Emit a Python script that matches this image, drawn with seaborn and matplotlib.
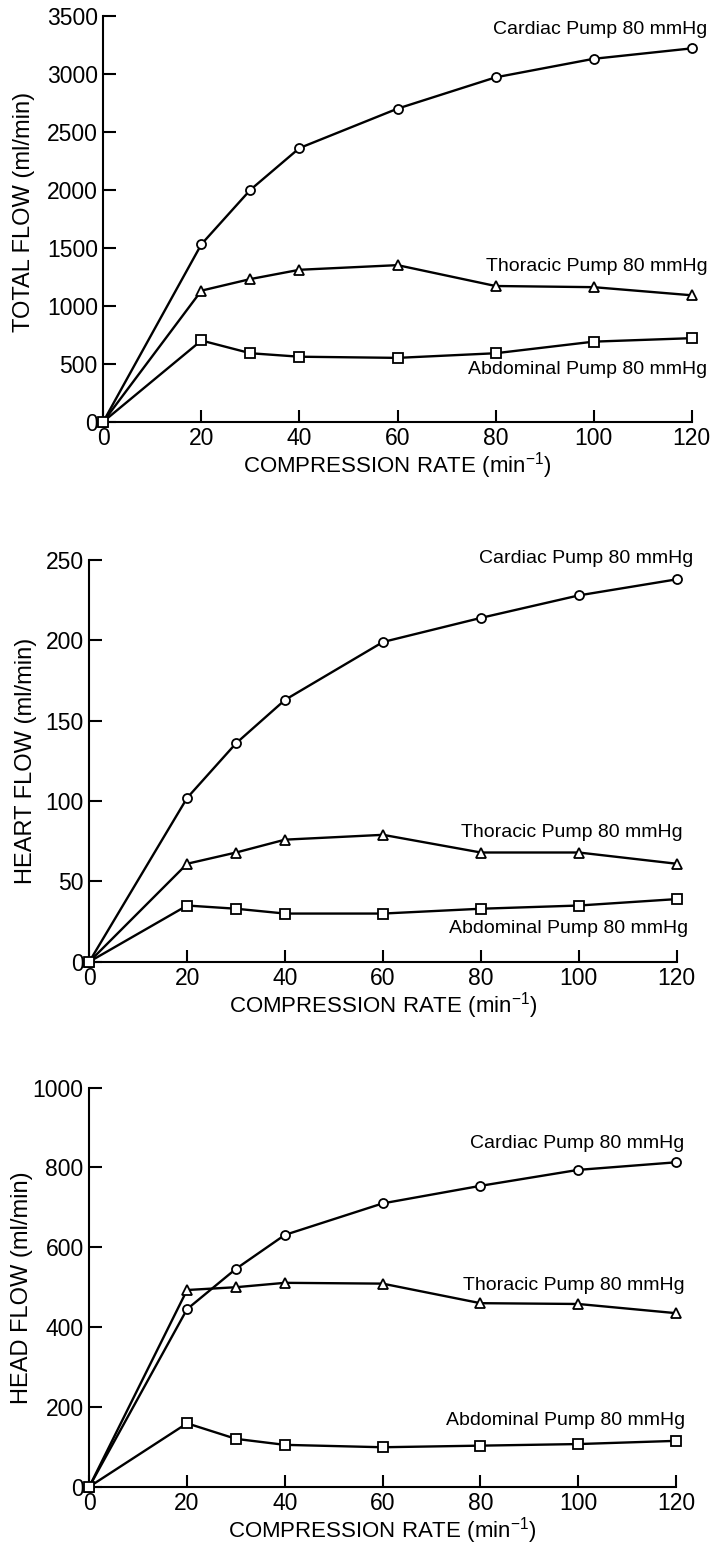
import matplotlib
matplotlib.use('Agg')
import matplotlib.pyplot as plt
import seaborn as sns
import pandas as pd

# compression rate (per min)
rate = [0, 20, 30, 40, 60, 80, 100, 120]

# total flow (ml/min)
total_cardiac = [0, 1530, 2000, 2360, 2700, 2970, 3130, 3220]
total_thoracic = [0, 1130, 1230, 1310, 1350, 1170, 1160, 1090]
total_abdominal = [0, 700, 590, 560, 550, 590, 690, 720]

# heart flow (ml/min)
heart_cardiac = [0, 102, 136, 163, 199, 214, 228, 238]
heart_thoracic = [0, 61, 68, 76, 79, 68, 68, 61]
heart_abdominal = [0, 35, 33, 30, 30, 33, 35, 39]

# head flow (ml/min)
head_cardiac = [0, 445, 546, 631, 710, 754, 794, 813]
head_thoracic = [0, 493, 500, 511, 509, 460, 458, 435]
head_abdominal = [0, 159, 120, 105, 99, 103, 107, 115]

series_names = ['Cardiac Pump 80 mmHg', 'Thoracic Pump 80 mmHg', 'Abdominal Pump 80 mmHg']
markers = ['o', '^', 's']

sns.set_style('ticks')
plt.rcParams['font.family'] = ['Liberation Sans', 'DejaVu Sans']
plt.rcParams['mathtext.fontset'] = 'custom'
plt.rcParams['mathtext.rm'] = 'Liberation Sans'
plt.rcParams['mathtext.it'] = 'Liberation Sans'
for k in ['text.color', 'axes.labelcolor', 'xtick.color', 'ytick.color', 'axes.edgecolor']:
    plt.rcParams[k] = 'black'

fig = plt.figure(figsize=(7.24, 15.45), dpi=100)

panels = [
    dict(rect=[0.1427, 0.7271, 0.8127, 0.2626], series=[total_cardiac, total_thoracic, total_abdominal],
         ylabel='TOTAL FLOW (ml/min)', ymax=3500, ystep=500, ylab_xy=(-0.116, 0.518),
         label_pos=[(123.2, 3380), (123.2, 1335), (123.2, 446)]),
    dict(rect=[0.1233, 0.3775, 0.8113, 0.2600], series=[heart_cardiac, heart_thoracic, heart_abdominal],
         ylabel='HEART FLOW (ml/min)', ymax=250, ystep=50, ylab_xy=(-0.089, 0.5),
         label_pos=[(123.3, 251), (121.3, 80.5), (122.3, 21)]),
    dict(rect=[0.1233, 0.0377, 0.8103, 0.2583], series=[head_cardiac, head_thoracic, head_abdominal],
         ylabel='HEAD FLOW (ml/min)', ymax=1000, ystep=200, ylab_xy=(-0.096, 0.5),
         label_pos=[(121.8, 860), (121.8, 505), (121.8, 167)]),
]

for p in panels:
    ax = fig.add_axes(p['rect'])
    for vals, name, m in zip(p['series'], series_names, markers):
        df = pd.DataFrame({'rate': rate, 'flow': vals})
        sns.lineplot(data=df, x='rate', y='flow', ax=ax, color='black', linewidth=1.7,
                     marker=m, markersize=6.5 if m != 's' else 7, markerfacecolor='white',
                     markeredgecolor='black', markeredgewidth=1.3, clip_on=False, zorder=3)
    for (tx, ty), name in zip(p['label_pos'], series_names):
        ax.text(tx, ty, name, ha='right', va='center', fontsize=14)
    ax.set_xlim(0, 120)
    ax.set_ylim(0, p['ymax'])
    ax.set_xticks(range(0, 121, 20))
    ax.set_yticks(range(0, p['ymax'] + 1, p['ystep']))
    sns.despine(ax=ax)
    for s in ['left', 'bottom']:
        ax.spines[s].set_linewidth(1.5)
    ax.tick_params(direction='in', length=9, width=1.5, labelsize=16.5, pad=4)
    ax.set_ylabel(p['ylabel'], fontsize=17)
    ax.yaxis.set_label_coords(*p['ylab_xy'])
    ax.set_xlabel('COMPRESSION RATE (min$^{-1}$)', fontsize=16, labelpad=0)

fig.savefig('out.png', dpi=100, facecolor='white')
